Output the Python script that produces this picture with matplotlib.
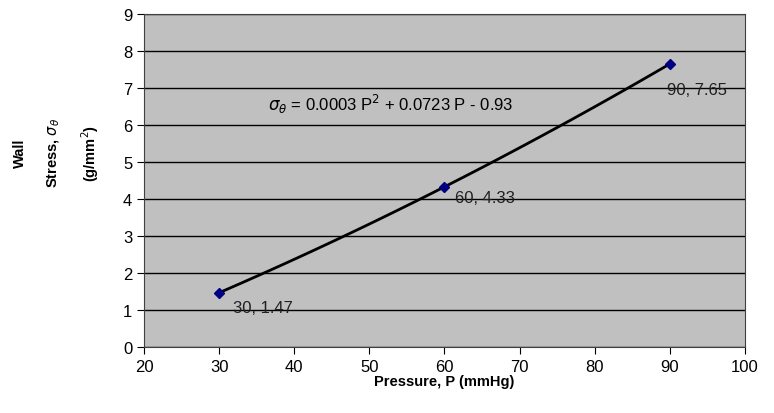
import numpy as np
import matplotlib.pyplot as plt

plt.rcParams['font.family'] = ['Liberation Sans', 'DejaVu Sans']

pressure = [30, 60, 90]
stress = [1.47, 4.33, 7.65]
point_labels = ["30, 1.47", "60, 4.33", "90, 7.65"]
ylabel_lines = ["Wall", "Stress, $\\sigma_\\theta$", "(g/mm$^2$)"]

fig = plt.figure(figsize=(7.74, 4.14), dpi=100)
ax = fig.add_axes([0.186, 0.159, 0.7765, 0.805])
ax.set_facecolor('#c0c0c0')

# quadratic trendline through the points
coef = np.polyfit(pressure, stress, 2)
p = np.linspace(min(pressure), max(pressure), 100)
ax.plot(p, np.polyval(coef, p), color='black', lw=2, zorder=3)
ax.plot(pressure, stress, 'D', color='#000080', ms=5, zorder=4)

offsets = [(1.9, -0.4), (1.4, -0.3), (-0.4, -0.7)]
for x, y, lab, (dx, dy) in zip(pressure, stress, point_labels, offsets):
    ax.text(x + dx, y + dy, lab, fontsize=12, ha='left', va='center', color='#202020')

ax.text(36.5, 6.57, r"$\sigma_\theta$ = 0.0003 P$^2$ + 0.0723 P - 0.93",
        fontsize=12, ha='left', va='center')

ax.set_xlim(20, 100)
ax.set_ylim(0, 9)
ax.set_xticks(range(20, 101, 10))
ax.set_yticks(range(0, 10))
ax.tick_params(labelsize=12, direction='out', length=5, color='black')
ax.yaxis.grid(True, color='black', lw=1)
ax.set_axisbelow(True)
for s in ax.spines.values():
    s.set_color('#404040')

ax.set_xlabel("Pressure, P (mmHg)", fontsize=10.5, fontweight='bold', labelpad=0)

# y label drawn as three rotated columns like the original
for xpx, line in zip([20, 54, 90], ylabel_lines):
    fig.text(xpx / 774, 1 - 153 / 414, line, rotation=90, fontsize=10.5,
             fontweight='bold', ha='center', va='center')

fig.savefig('out.png', dpi=100)
